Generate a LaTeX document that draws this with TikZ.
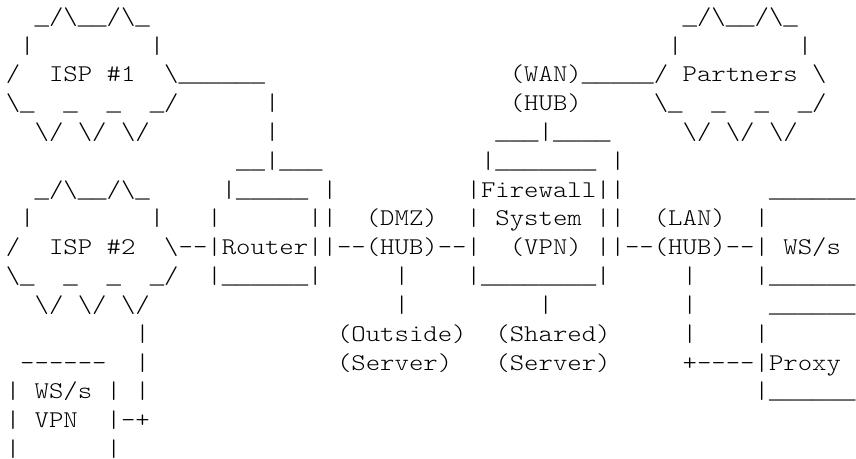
\documentclass[tikz,border=0pt]{standalone}
\usepackage{fontspec}
\newfontfamily\asciifont[FakeStretch=1.1429]{Latin Modern Mono Light}
\newfontfamily\barfont{Liberation Mono}
\newcommand\Bk{\textbackslash{}}
\renewcommand\_{{\barfont\symbol{95}}}
\tikzset{asciitext/.style={anchor=base west,inner sep=0pt,outer sep=0pt,text=black,font=\asciifont\fontsize{24}{28.8}\selectfont}}
% name, row, column, text
\newcommand\chunk[4]{\node[asciitext] (#1) at ({5.8+14.4*#3},{433.6-28.8*#2}) {#4};}
\newcommand\cloudtop{\_/\Bk\_\_/\Bk\_}
\newcommand\cloudside{|~~~~~~~~|}
\newcommand\cloudlow{\Bk\_~~\_~~\_~~\_/}
\newcommand\cloudbase{\Bk/~\Bk/~\Bk/}
\begin{document}
\begin{tikzpicture}[x=1pt,y=1pt]
\useasboundingbox (0,0) rectangle (856,458);
\chunk{aA}{0}{2}{\cloudtop}
\chunk{aB}{0}{47}{\cloudtop}
\chunk{bA}{1}{1}{\cloudside}
\chunk{bB}{1}{46}{\cloudside}
\chunk{cA}{2}{0}{/~~ISP~\#1~~\Bk\_\_\_\_\_\_}
\chunk{cB}{2}{35}{(WAN)\_\_\_\_\_/~Partners~\Bk}
\chunk{dA}{3}{0}{\cloudlow}
\chunk{dB}{3}{18}{|}
\chunk{dC}{3}{35}{(HUB)}
\chunk{dD}{3}{45}{\cloudlow}
\chunk{eA}{4}{2}{\cloudbase}
\chunk{eB}{4}{18}{|}
\chunk{eC}{4}{34}{\_\_\_|\_\_\_\_}
\chunk{eD}{4}{47}{\cloudbase}
\chunk{fA}{5}{16}{\_\_|\_\_\_}
\chunk{fB}{5}{33}{|\_\_\_\_\_\_\_~|}
\chunk{gA}{6}{2}{\cloudtop}
\chunk{gB}{6}{15}{|\_\_\_\_\_~|}
\chunk{gC}{6}{32}{|Firewall||}
\chunk{gD}{6}{53}{\_\_\_\_\_\_}
\chunk{hA}{7}{1}{\cloudside}
\chunk{hB}{7}{14}{|}
\chunk{hC}{7}{21}{||}
\chunk{hD}{7}{25}{(DMZ)}
\chunk{hE}{7}{32}{|~System~||}
\chunk{hF}{7}{45}{(LAN)}
\chunk{hG}{7}{52}{|}
\chunk{iA}{8}{0}{/~~ISP~\#2~~\Bk--|Router||--(HUB)--|~~(VPN)~||--(HUB)--|~WS/s}
\chunk{jA}{9}{0}{\cloudlow}
\chunk{jB}{9}{14}{|\_\_\_\_\_\_|}
\chunk{jC}{9}{27}{|}
\chunk{jD}{9}{32}{|\_\_\_\_\_\_\_\_|}
\chunk{jE}{9}{47}{|}
\chunk{jF}{9}{52}{|\_\_\_\_\_\_}
\chunk{kA}{10}{2}{\cloudbase}
\chunk{kB}{10}{27}{|}
\chunk{kC}{10}{37}{|}
\chunk{kD}{10}{47}{|}
\chunk{kE}{10}{53}{\_\_\_\_\_\_}
\chunk{lA}{11}{9}{|}
\chunk{lB}{11}{23}{(Outside)}
\chunk{lC}{11}{34}{(Shared)}
\chunk{lD}{11}{47}{|}
\chunk{lE}{11}{52}{|}
\chunk{mA}{12}{1}{------}
\chunk{mB}{12}{9}{|}
\chunk{mC}{12}{23}{(Server)}
\chunk{mD}{12}{34}{(Server)}
\chunk{mE}{12}{47}{+----|Proxy}
\chunk{nA}{13}{0}{|~WS/s~|~|}
\chunk{nB}{13}{52}{|\_\_\_\_\_\_}
\chunk{oA}{14}{0}{|~VPN~~|-+}
\chunk{pA}{15}{0}{|~~~~~~|}
\end{tikzpicture}
\end{document}
